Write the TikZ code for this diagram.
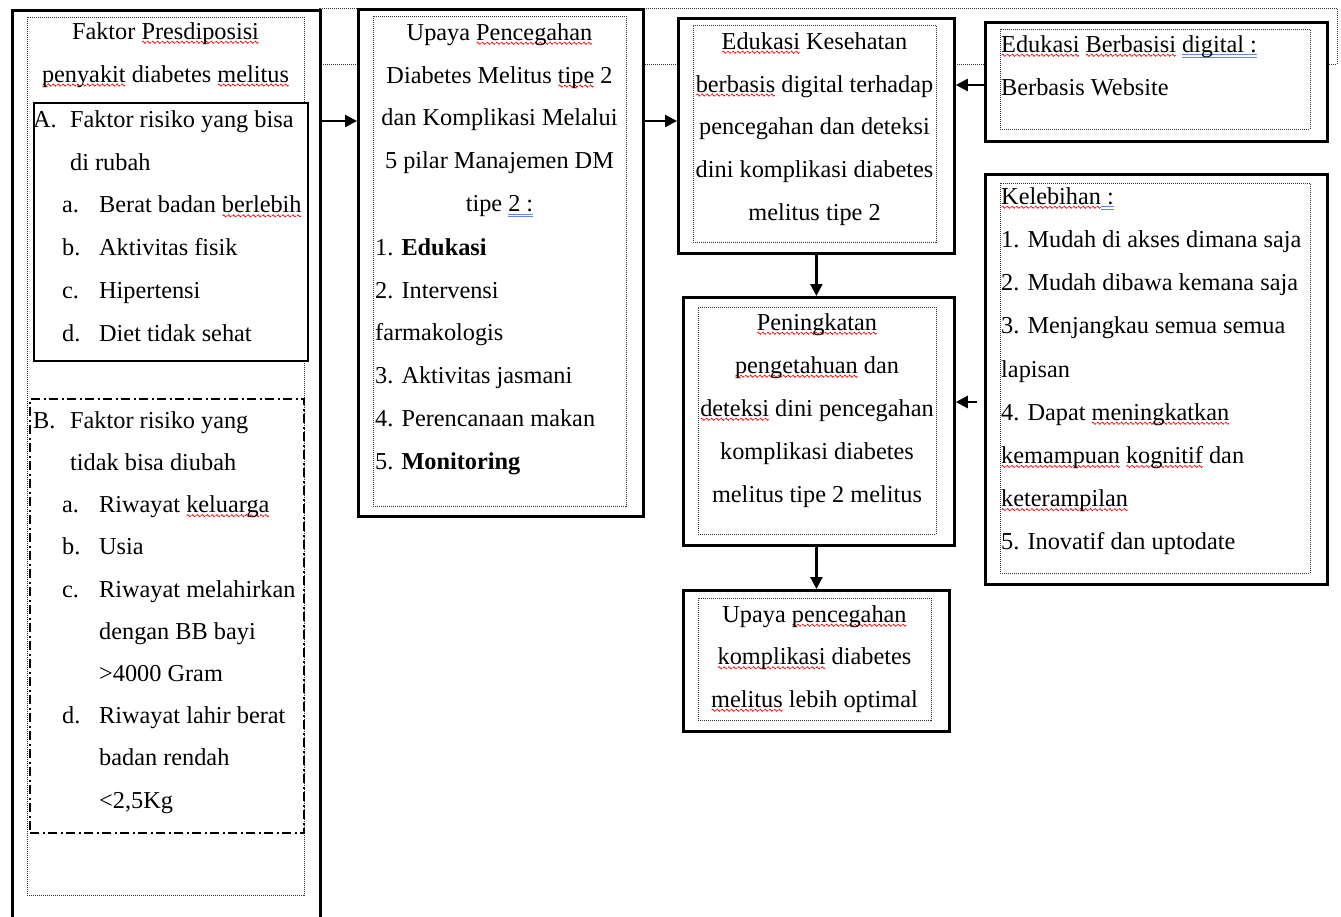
\documentclass[tikz,border=0pt]{standalone}
\usepackage{fontspec}
\setmainfont{Liberation Serif}
\usetikzlibrary{arrows.meta}
\definecolor{wblue}{RGB}{95,135,220}
\newsavebox\wavebox
\newsavebox\wordbox
\newcommand\rw[1]{\sbox\wordbox{#1}\rlap{\raisebox{-4.5pt}[0pt][0pt]{\hbox to \wd\wordbox{\xleaders\copy\wavebox\hfill}}}\usebox\wordbox}
\newcommand\bw[1]{\sbox\wordbox{#1}\rlap{\textcolor{wblue}{\rule[-3pt]{\wd\wordbox}{0.8pt}}}\rlap{\textcolor{wblue}{\rule[-5.5pt]{\wd\wordbox}{0.8pt}}}\usebox\wordbox}
\newcommand\fl{\rule{0pt}{18pt}}
\begin{document}
\sbox\wavebox{\begin{pgfpicture}\pgfsetlinewidth{0.7pt}\pgfsetstrokecolor{red}\pgfpathmoveto{\pgfpoint{0pt}{0pt}}\pgfpathlineto{\pgfpoint{1pt}{1.1pt}}\pgfpathlineto{\pgfpoint{3pt}{-1.1pt}}\pgfpathlineto{\pgfpoint{4pt}{0pt}}\pgfusepath{stroke}\end{pgfpicture}}%
\begin{tikzpicture}[x=1pt,y=-1pt,
  txt/.style={inner sep=0pt, font=\fontsize{24.3}{42.8}\selectfont},
  ctxt/.style={txt, align=center, anchor=north},
  ltxt/.style={txt, align=left, anchor=north west},
  obox/.style={draw, fill=white, line width=2.8pt, inner sep=0pt, anchor=north west},
  ibox/.style={draw=black!80, line width=0.9pt, dash pattern=on 1pt off 1pt, inner sep=0pt, anchor=north west},
  ddbox/.style={draw, line width=2pt, dash pattern=on 9pt off 3.5pt on 2pt off 3.5pt, inner sep=0pt, anchor=north west},
  arr/.style={line width=2.4pt, -{Triangle[length=12pt,width=12pt]}},
]
\useasboundingbox (0,0) rectangle (1341,916);
\fill[white] (0,0) rectangle (1341,916);
% background dotted frame
\draw[draw=black!80, line width=0.9pt, dash pattern=on 1pt off 1pt] (319,8) rectangle (1337,64);

% left column
\node[obox, minimum width=308pt, minimum height=925pt] (L) at (11,9) {};
\node[ibox, minimum width=277pt, minimum height=878pt] (Li) at (27,17) {};
\node[obox, line width=2.4pt, minimum width=274pt, minimum height=258pt] (A) at (33,102) {};
\node[ddbox, minimum width=274pt, minimum height=434pt] (B) at (29,398) {};
\node[ctxt] (tL) at (165.5,21) {\fl Faktor \rw{Presdiposisi}\\\rw{penyakit} diabetes \rw{melitus}};
\node[ltxt] (tA) at (33,109) {\fl\makebox[37pt][l]{A.}Faktor risiko yang bisa\\
\hspace*{37pt}di rubah\\
\hspace*{29pt}\makebox[37pt][l]{a.}Berat badan \rw{berlebih}\\
\hspace*{29pt}\makebox[37pt][l]{b.}Aktivitas fisik\\
\hspace*{29pt}\makebox[37pt][l]{c.}Hipertensi\\
\hspace*{29pt}\makebox[37pt][l]{d.}Diet tidak sehat};
\node[ltxt, font=\fontsize{24.3}{42.2}\selectfont] (tB) at (33,410) {\fl\makebox[37pt][l]{B.}Faktor risiko yang\\
\hspace*{37pt}tidak bisa diubah\\
\hspace*{29pt}\makebox[37pt][l]{a.}Riwayat \rw{keluarga}\\
\hspace*{29pt}\makebox[37pt][l]{b.}Usia\\
\hspace*{29pt}\makebox[37pt][l]{c.}Riwayat melahirkan\\
\hspace*{66pt}dengan BB bayi\\
\hspace*{66pt}>4000 Gram\\
\hspace*{29pt}\makebox[37pt][l]{d.}Riwayat lahir berat\\
\hspace*{66pt}badan rendah\\
\hspace*{66pt}<2,5Kg};

% middle column
\node[obox, minimum width=285pt, minimum height=507pt] (M) at (357,8) {};
\node[ibox, minimum width=253pt, minimum height=490pt] (Mi) at (373,16) {};
\node[ctxt] (tM) at (499.5,22) {\fl Upaya \rw{Pencegahan}\\Diabetes Melitus \rw{tipe} 2\\dan Komplikasi Melalui\\5 pilar Manajemen DM\\tipe \bw{2~:}};
\node[ltxt] (tM2) at (375,237) {\fl 1. \textbf{Edukasi}\\2. Intervensi\\farmakologis\\3. Aktivitas jasmani\\4. Perencanaan makan\\5. \textbf{Monitoring}};

% centre-right column
\node[obox, minimum width=276pt, minimum height=235pt] (E) at (677,17) {};
\node[ibox, minimum width=243pt, minimum height=217pt] (Ei) at (693,25) {};
\node[ctxt] (tE) at (814.5,31) {\fl\rw{Edukasi} Kesehatan\\\rw{berbasis} digital terhadap\\pencegahan dan deteksi\\dini komplikasi diabetes\\melitus tipe 2};

\node[obox, minimum width=271pt, minimum height=248pt] (P) at (682,296) {};
\node[ibox, minimum width=238pt, minimum height=227pt] (Pi) at (698,307) {};
\node[ctxt, font=\fontsize{24.3}{43}\selectfont] (tP) at (817,312) {\fl\rw{Peningkatan}\\\rw{pengetahuan} dan\\\rw{deteksi} dini pencegahan\\komplikasi diabetes\\melitus tipe 2 melitus};

\node[obox, minimum width=266pt, minimum height=141pt] (U) at (682,589) {};
\node[ibox, minimum width=233pt, minimum height=122pt] (Ui) at (698,598) {};
\node[ctxt, font=\fontsize{24.3}{42.5}\selectfont] (tU) at (814.5,604) {\fl Upaya \rw{pencegahan}\\\rw{komplikasi} diabetes\\\rw{melitus} lebih optimal};

% right column
\node[obox, minimum width=342pt, minimum height=119pt] (W) at (984,21) {};
\node[ibox, minimum width=310pt, minimum height=100pt] (Wi) at (1000,29) {};
\node[ltxt] (tW) at (1001,34) {\fl\rw{Edukasi} \rw{Berbasisi} \bw{digital~:}\\Berbasis Website};

\node[obox, minimum width=342pt, minimum height=410pt] (K) at (984,173) {};
\node[ibox, minimum width=310pt, minimum height=390pt] (Ki) at (1000,183) {};
\node[ltxt, font=\fontsize{24.3}{43.2}\selectfont] (tK) at (1001,186) {\fl\rw{Kelebihan}\bw{~:}\\1. Mudah di akses dimana saja\\2. Mudah dibawa kemana saja\\3. Menjangkau semua semua\\lapisan\\4. Dapat \rw{meningkatkan}\\\rw{kemampuan} \rw{kognitif} dan\\\rw{keterampilan}\\5. Inovatif dan uptodate};

% connectors
\draw[arr] ([yshift=-112pt]L.north east) -- ([yshift=-113pt]M.north west);
\draw[arr] ([yshift=-113pt]M.north east) -- ([yshift=-104pt]E.north west);
\draw[arr] ([yshift=-64pt]W.north west) -- ([yshift=-68pt]E.north east);
\draw[arr] (E.south) -- (E.south |- P.north);
\draw[arr] (U.north |- P.south) -- (U.north);
\draw[arr, shorten <=7pt] ([yshift=-229pt]K.north west) -- ([yshift=-106pt]P.north east);
\end{tikzpicture}
\end{document}
